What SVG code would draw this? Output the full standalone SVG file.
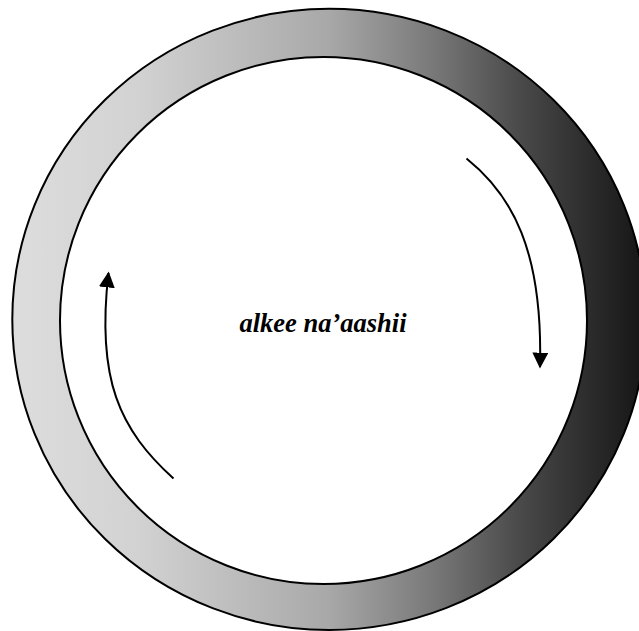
<svg xmlns="http://www.w3.org/2000/svg" width="639" height="631" viewBox="0 0 639 631">
  <defs>
    <linearGradient id="ringGrad" gradientUnits="userSpaceOnUse" x1="12" y1="0" x2="646" y2="0">
      <stop offset="0" stop-color="#dddddd"/>
      <stop offset="0.2" stop-color="#d2d2d2"/>
      <stop offset="0.5" stop-color="#a8a8a8"/>
      <stop offset="0.66" stop-color="#7a7a7a"/>
      <stop offset="0.8" stop-color="#4a4a4a"/>
      <stop offset="0.91" stop-color="#2c2c2c"/>
      <stop offset="1" stop-color="#151515"/>
    </linearGradient>
    <marker id="arrow" viewBox="0 0 10 10" refX="9" refY="5" markerWidth="8" markerHeight="8" markerUnits="strokeWidth" orient="auto">
      <path d="M0,0 L10,5 L0,10 z" fill="#000"/>
    </marker>
    <style>
      .edge { fill: none; stroke: #000; stroke-width: 2; marker-end: url(#arrow); }
      .label { font-family: "Liberation Serif", "Times New Roman", serif; font-weight: bold; font-style: italic; font-size: 26.5px; fill: #000; }
    </style>
  </defs>
  <rect width="639" height="631" fill="#fff"/>
  <g id="ring">
    <path d="M329.2,8.8 A316.9,310.6 0 1 1 329.2,630 A316.9,310.6 0 1 1 329.2,8.8 Z M323.5,57 A263.5,263.5 0 1 0 323.5,584 A263.5,263.5 0 1 0 323.5,57 Z" fill="url(#ringGrad)" fill-rule="evenodd" stroke="#000" stroke-width="2"/>
  </g>
  <g id="center-label">
    <text class="label" x="323" y="332" text-anchor="middle">alkee na’aashii</text>
  </g>
  <g id="connectors">
    <path class="edge" d="M466.5,158.5 C512,195 543,250 540,367"/>
    <path class="edge" d="M173.5,478.5 C120,430 96,380 108.5,273"/>
  </g>
</svg>
